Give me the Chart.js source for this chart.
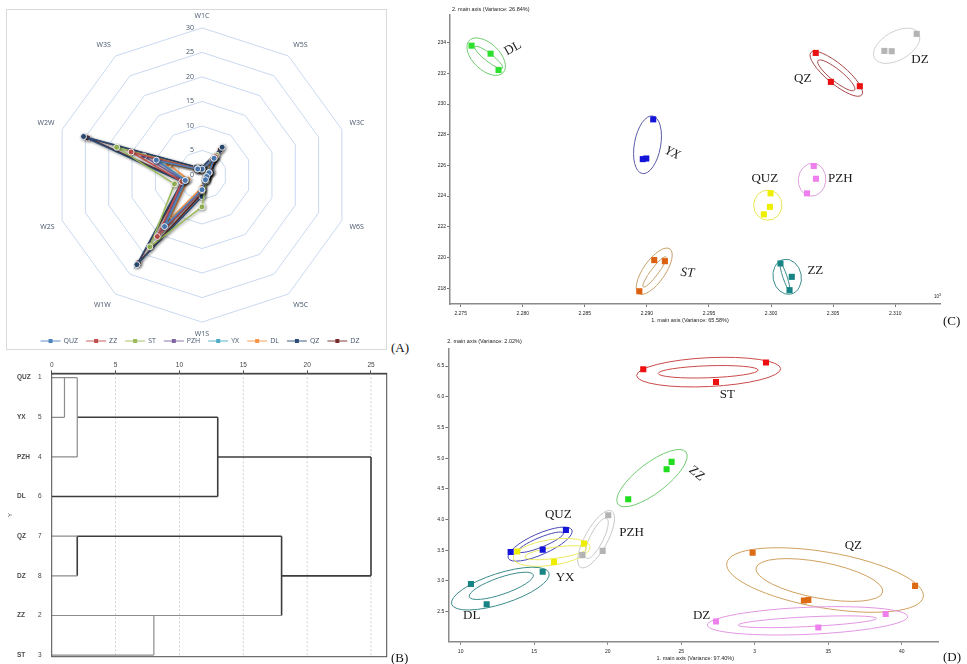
<!DOCTYPE html>
<html lang="en">
<head>
<meta charset="utf-8">
<title>Site profiles, clustering and ordination</title>
<script src="https://cdn.jsdelivr.net/npm/chart.js@4.4.1/dist/chart.umd.min.js"></script>
<style>
  html, body { margin: 0; padding: 0; background: #fff; }
  #page { position: relative; width: 967px; height: 664px; overflow: hidden; background: #fff; }
  canvas { position: absolute; display: block; }
  .frame { position: absolute; border: 1px solid #d9d9d9; box-sizing: border-box; }
  .tag { position: absolute; font-family: "Liberation Serif", "DejaVu Serif", serif; font-size: 13px; line-height: 13px; color: #111; }
</style>
</head>
<body>
<div id="page">
  <div class="frame" style="left:6px;top:9px;width:381px;height:341px"></div>
  <canvas id="radarA" width="381" height="341" style="left:6px;top:9px"></canvas>
  <canvas id="treeB" width="400" height="309" style="left:0;top:355px"></canvas>
  <canvas id="pcaC" width="547" height="330" style="left:420px;top:0"></canvas>
  <canvas id="pcaD" width="547" height="332" style="left:420px;top:332px"></canvas>
  <div class="tag" style="left:391px;top:341px">(A)</div>
  <div class="tag" style="left:391px;top:651px">(B)</div>
  <div class="tag" style="left:943px;top:314px">(C)</div>
  <div class="tag" style="left:943px;top:650px">(D)</div>
</div>
<script>
// ---------------- (A) radar profiles ----------------
const radarAxes = ['W1C', 'W5S', 'W3C', 'W6S', 'W5C', 'W1S', 'W1W', 'W2S', 'W2W', 'W3S'];
const radarTicks = [0, 5, 10, 15, 20, 25, 30];
const siteNames = ['QUZ', 'ZZ', 'ST', 'PZH', 'YX', 'DL', 'QZ', 'DZ'];
const profileQUZ = [1.2, 4.2, 1.5, 1.0, 1.2, 3.0, 13.0, 3.6, 9.8, 1.5];
const profileZZ  = [1.2, 4.6, 1.6, 1.0, 1.2, 3.2, 15.5, 4.3, 15.2, 1.6];
const profileST  = [1.0, 5.0, 1.3, 0.9, 1.5, 6.5, 18.1, 5.9, 18.3, 1.5];
const profilePZH = [1.2, 4.3, 1.5, 1.0, 1.2, 3.0, 15.1, 3.8, 12.5, 1.5];
const profileYX  = [1.2, 4.2, 1.5, 1.0, 1.2, 3.0, 13.5, 3.5, 9.8, 1.5];
const profileDL  = [1.0, 3.6, 1.3, 0.9, 1.0, 2.5, 11.4, 3.0, 7.2, 1.3];
const profileQZ  = [1.6, 7.0, 2.0, 1.2, 1.3, 4.4, 22.6, 4.3, 25.4, 2.0];
const profileDZ  = [1.5, 6.3, 1.9, 1.1, 1.3, 3.8, 22.1, 4.0, 24.5, 1.9];
const radarProfiles = [profileQUZ, profileZZ, profileST, profilePZH, profileYX, profileDL, profileQZ, profileDZ];

// ---------------- (B) hierarchical clustering ----------------
const treeLeaves = ['QUZ', 'YX', 'PZH', 'DL', 'QZ', 'DZ', 'ZZ', 'ST'];
const treeLeafIds = ['1', '5', '4', '6', '7', '8', '2', '3'];
const treeTicks = [0, 5, 10, 15, 20, 25];
// links as [distance from, leaf row from, distance to, leaf row to]
const treeStubs = [[0, 0, 2, 0], [0, 1, 1, 1], [1, 0, 1, 1], [2, 0, 2, 2], [0, 2, 2, 2],
                   [0, 4, 2, 4], [0, 5, 2, 5], [0, 6, 18, 6], [0, 7, 8, 7], [8, 6, 8, 7]];
const treeJoins = [[2, 1, 13, 1], [13, 1, 13, 3], [0, 3, 13, 3], [13, 2, 25, 2], [25, 2, 25, 5],
                   [2, 4, 18, 4], [2, 4, 2, 5], [18, 4, 18, 6], [18, 5, 25, 5]];

// ---------------- (C) ordination, axes 1 / 2 ----------------
const cXTicks = [2.275, 2.280, 2.285, 2.290, 2.295, 2.300, 2.305, 2.310];
const cYTicks = [218, 220, 222, 224, 226, 228, 230, 232, 234];
const cDL  = [[2.27588, 233.80], [2.27741, 233.28], [2.27805, 232.22]];
const cYX  = [[2.29051, 229.00], [2.28967, 226.41], [2.28995, 226.45]];
const cQZ  = [[2.30360, 233.33], [2.30482, 231.44], [2.30715, 231.16]];
const cDZ  = [[2.31173, 234.57], [2.30913, 233.46], [2.30972, 233.44]];
const cPZH = [[2.30344, 225.96], [2.30362, 225.13], [2.30290, 224.18]];
const cQUZ = [[2.29996, 224.18], [2.29991, 223.30], [2.29942, 222.81]];
const cST  = [[2.29059, 219.83], [2.29145, 219.76], [2.28939, 217.80]];
const cZZ  = [[2.30076, 219.61], [2.30167, 218.74], [2.30149, 217.87]];

// ---------------- (D) ordination, axes 1 / 2 ----------------
const dXTicks = [10, 15, 20, 25, 30, 35, 40];
const dXTickText = ['10', '15', '20', '25', '3', '35', '40'];
const dYTicks = [2.5, 3.0, 3.5, 4.0, 4.5, 5.0, 5.5, 6.0, 6.5];
const dST  = [[22.42, 6.45], [30.77, 6.56], [27.37, 6.24]];
const dZZ  = [[24.35, 4.94], [24.01, 4.82], [21.40, 4.33]];
const dPZH = [[20.04, 4.07], [19.66, 3.49], [18.27, 3.42]];
const dQUZ = [[17.16, 3.83], [15.58, 3.51], [13.40, 3.47]];
const dYX  = [[13.85, 3.48], [16.35, 3.31], [18.39, 3.61]];
const dDL  = [[10.70, 2.95], [11.77, 2.62], [15.58, 3.15]];
const dQZ  = [[29.86, 3.46], [40.91, 2.92], [33.35, 2.68], [33.65, 2.69]];
const dDZ  = [[27.37, 2.34], [34.33, 2.24], [38.91, 2.46]];

// confidence ellipses: major-axis ends (data units) and minor/major ratio
const cRings = [
  { g: 'DL',  x1: 2.27569, y1: 234.13, x2: 2.27842, y2: 232.04, r: 0.57 },
  { g: 'DL',  x1: 2.27615, y1: 233.74, x2: 2.27837, y2: 232.33, r: 0.23 },
  { g: 'YX',  x1: 2.29047, y1: 229.22, x2: 2.28963, y2: 225.47, r: 0.45 },
  { g: 'QZ',  x1: 2.30320, y1: 233.35, x2: 2.30731, y2: 230.59, r: 0.30 },
  { g: 'QZ',  x1: 2.30378, y1: 232.83, x2: 2.30673, y2: 230.91, r: 0.25 },
  { g: 'DZ',  x1: 2.31190, y1: 234.61, x2: 2.30834, y2: 232.98, r: 0.56 },
  { g: 'PZH', x1: 2.30344, y1: 226.13, x2: 2.30317, y2: 224.00, r: 0.84 },
  { g: 'QUZ', x1: 2.29974, y1: 224.39, x2: 2.29974, y2: 222.43, r: 0.94 },
  { g: 'ST',  x1: 2.28933, y1: 217.65, x2: 2.29185, y2: 220.56, r: 0.40 },
  { g: 'ST',  x1: 2.28971, y1: 218.08, x2: 2.29153, y2: 220.04, r: 0.20 },
  { g: 'ZZ',  x1: 2.30103, y1: 219.87, x2: 2.30157, y2: 217.61, r: 0.80 },
  { g: 'ZZ',  x1: 2.30076, y1: 219.61, x2: 2.30148, y2: 217.87, r: 0.15 }
];
const dRings = [
  { g: 'ST',  x1: 21.97, y1: 6.345, x2: 31.77, y2: 6.459, r: 0.20 },
  { g: 'ST',  x1: 23.44, y1: 6.380, x2: 30.24, y2: 6.435, r: 0.12 },
  { g: 'ZZ',  x1: 20.70, y1: 4.25, x2: 25.33, y2: 5.10, r: 0.35 },
  { g: 'PZH', x1: 18.16, y1: 3.22, x2: 20.27, y2: 4.14, r: 0.35 },
  { g: 'PZH', x1: 18.57, y1: 3.37, x2: 19.93, y2: 4.02, r: 0.30 },
  { g: 'QUZ', x1: 13.24, y1: 3.37, x2: 17.57, y2: 3.83, r: 0.30 },
  { g: 'QUZ', x1: 13.92, y1: 3.48, x2: 16.98, y2: 3.78, r: 0.20 },
  { g: 'YX',  x1: 13.58, y1: 3.37, x2: 18.80, y2: 3.56, r: 0.33 },
  { g: 'YX',  x1: 14.37, y1: 3.39, x2: 18.57, y2: 3.53, r: 0.18 },
  { g: 'DL',  x1: 9.39,  y1: 2.62, x2: 16.01, y2: 3.13, r: 0.30 },
  { g: 'DL',  x1: 10.59, y1: 2.74, x2: 14.94, y2: 3.10, r: 0.25 },
  { g: 'QZ',  x1: 28.10, y1: 3.29, x2: 41.47, y2: 2.74, r: 0.28 },
  { g: 'QZ',  x1: 30.09, y1: 3.21, x2: 38.71, y2: 2.82, r: 0.28 },
  { g: 'DZ',  x1: 26.78, y1: 2.28, x2: 40.41, y2: 2.42, r: 0.135 },
  { g: 'DZ',  x1: 28.88, y1: 2.28, x2: 38.30, y2: 2.39, r: 0.07 }
];

// ---------------- styling ----------------
const siteColors = ['#4f81bd', '#c0504d', '#9bbb59', '#8064a2', '#4bacc6', '#f79646', '#2c4d75', '#772c2a'];
const cDotColors  = { DL: '#2ee02e', YX: '#1414d8', QZ: '#e81010', DZ: '#b4b4b4', PZH: '#ee80ee', QUZ: '#eeee00', ST: '#dd6010', ZZ: '#168484' };
const cRingColors = { DL: '#70cc70', YX: '#5a5aa8', QZ: '#a84a4a', DZ: '#cfcfcf', PZH: '#dca0dc', QUZ: '#e6e650', ST: '#c8a06c', ZZ: '#3c8c8c' };
const dDotColors  = { ST: '#ee1010', ZZ: '#20dd20', PZH: '#b4b4b4', QUZ: '#1414d8', YX: '#eeee00', DL: '#168484', QZ: '#dd6a14', DZ: '#ee80ee' };
const dRingColors = { ST: '#cc4a4a', ZZ: '#70cc70', PZH: '#c8c8c8', QUZ: '#4a4ab8', YX: '#eaea60', DL: '#3c8c8c', QZ: '#d0a060', DZ: '#e296e2' };
// text placement for the group names (data units, rotation in degrees)
const cNamePlaces = [
  { t: 'DL', x: 2.27920, y: 233.63, rot: -30 },
  { t: 'YX', x: 2.29204, y: 226.80, rot: 25, italic: true },
  { t: 'QZ', x: 2.30255, y: 231.68 },
  { t: 'DZ', x: 2.31200, y: 232.92 },
  { t: 'PZH', x: 2.30558, y: 225.15 },
  { t: 'QUZ', x: 2.29950, y: 225.15 },
  { t: 'ST', x: 2.29327, y: 219.00, rot: 5, italic: true },
  { t: 'ZZ', x: 2.30357, y: 219.17 }
];
const dNamePlaces = [
  { t: 'ST', x: 28.14, y: 6.03 },
  { t: 'ZZ', x: 26.05, y: 4.75, rot: 40 },
  { t: 'PZH', x: 21.63, y: 3.78 },
  { t: 'QUZ', x: 16.64, y: 4.08 },
  { t: 'YX', x: 17.10, y: 3.06 },
  { t: 'DL', x: 10.75, y: 2.43 },
  { t: 'QZ', x: 36.71, y: 3.57 },
  { t: 'DZ', x: 26.39, y: 2.43 }
];

Chart.defaults.font.family = '"Liberation Sans", Arial, sans-serif';
const excelFont = '"Open Sans", "Liberation Sans", sans-serif';

// ---------- radar: tick values, soft line shadow and legend ----------
const radarDecor = {
  id: 'radarDecor',
  beforeDatasetsDraw(chart) {
    const r = chart.scales.r, ctx = chart.ctx;
    ctx.save();
    ctx.font = '7px ' + excelFont;
    ctx.fillStyle = '#44546a';
    ctx.textAlign = 'right';
    ctx.textBaseline = 'middle';
    radarTicks.forEach(v => ctx.fillText(String(v), r.xCenter - 8, r.yCenter - r.getDistanceFromCenterForValue(v)));
    ctx.restore();
    ctx.save();
    ctx.shadowColor = 'rgba(0,0,0,0.38)';
    ctx.shadowBlur = 3;
    ctx.shadowOffsetX = 1;
    ctx.shadowOffsetY = 1;
  },
  afterDatasetsDraw(chart) {
    chart.ctx.restore();
  },
  afterDraw(chart) {
    const ctx = chart.ctx;
    const items = chart.data.datasets.map(ds => ({ text: ds.label, color: ds.borderColor }));
    ctx.save();
    ctx.font = '7px ' + excelFont;
    const icon = 20, gap = 3, space = 8;
    const widths = items.map(it => icon + gap + ctx.measureText(it.text).width);
    const total = widths.reduce((a, b) => a + b, 0) + space * (items.length - 1);
    let x = chart.scales.r.xCenter - 2 - total / 2;
    const y = chart.height - 9;
    ctx.textBaseline = 'middle';
    ctx.textAlign = 'left';
    items.forEach((it, i) => {
      ctx.globalAlpha = 0.75;
      ctx.strokeStyle = it.color;
      ctx.lineWidth = 1.2;
      ctx.beginPath(); ctx.moveTo(x, y); ctx.lineTo(x + icon, y); ctx.stroke();
      ctx.globalAlpha = 1;
      ctx.fillStyle = it.color;
      ctx.fillRect(x + icon / 2 - 2, y - 2, 4, 4);
      ctx.fillStyle = '#44546a';
      ctx.fillText(it.text, x + icon + gap, y);
      x += widths[i] + space;
    });
    ctx.restore();
  }
};

new Chart(document.getElementById('radarA'), {
  type: 'radar',
  data: {
    labels: radarAxes,
    datasets: siteNames.map((name, i) => ({
      label: name,
      data: radarProfiles[i],
      borderColor: siteColors[i],
      backgroundColor: siteColors[i],
      pointBackgroundColor: siteColors[i],
      pointBorderColor: 'rgba(255,255,255,0.85)',
      pointBorderWidth: 1,
      pointRadius: 3,
      borderWidth: 1.5,
      fill: false
    }))
  },
  options: {
    responsive: false, animation: false, events: [],
    layout: { padding: { left: 11, right: 0, top: 2.5, bottom: 11.5 } },
    plugins: { legend: { display: false }, tooltip: { enabled: false } },
    scales: {
      r: {
        min: 0, max: 30,
        ticks: { stepSize: 5, display: false },
        grid: { color: '#c9d9ef', lineWidth: 1 },
        angleLines: { display: false },
        pointLabels: { font: { family: excelFont, size: 7 }, color: '#44546a', padding: 8 }
      }
    }
  },
  plugins: [radarDecor]
});

// ---------- dendrogram ----------
const treeDecor = {
  id: 'treeDecor',
  beforeDatasetsDraw(chart) {
    const { ctx, chartArea: a, scales: { x } } = chart;
    ctx.save();
    ctx.strokeStyle = '#c4c4c4';
    ctx.lineWidth = 0.8;
    ctx.setLineDash([2, 2]);
    treeTicks.forEach(v => {
      if (v === 0) return;
      const px = x.getPixelForValue(v);
      ctx.beginPath(); ctx.moveTo(px, a.top); ctx.lineTo(px, a.bottom); ctx.stroke();
    });
    ctx.restore();
  },
  afterDraw(chart) {
    const { ctx, chartArea: a, scales: { y } } = chart;
    ctx.save();
    ctx.strokeStyle = '#4a4a4a';
    ctx.lineWidth = 1;
    ctx.strokeRect(a.left, a.top, a.right - a.left, a.bottom - a.top);
    ctx.font = 'bold 6.5px "Liberation Sans", Arial, sans-serif';
    ctx.fillStyle = '#4a4a4a';
    ctx.textAlign = 'left';
    ctx.textBaseline = 'middle';
    treeLeaves.forEach((n, i) => ctx.fillText(n, 17, y.getPixelForValue(i)));
    ctx.translate(10, 160);
    ctx.rotate(-Math.PI / 2);
    ctx.textAlign = 'center';
    ctx.font = '6px "Liberation Sans", Arial, sans-serif';
    ctx.fillText('Y', 0, 0);
    ctx.restore();
  }
};

const linkSets = (links, color, width) => links.map(s => ({
  data: [{ x: s[0], y: s[1] }, { x: s[2], y: s[3] }],
  borderColor: color, borderWidth: width, showLine: true, pointRadius: 0, fill: false
}));

new Chart(document.getElementById('treeB'), {
  type: 'scatter',
  data: { datasets: [...linkSets(treeStubs, '#8c8c8c', 1.2), ...linkSets(treeJoins, '#3c3c3c', 1.6)] },
  options: {
    responsive: false, animation: false, events: [],
    layout: { padding: { left: 0, right: 13.3, top: 0, bottom: 7.3 } },
    plugins: { legend: { display: false }, tooltip: { enabled: false } },
    scales: {
      x: {
        type: 'linear', position: 'top', min: 0, max: 26.23,
        afterBuildTicks: s => { s.ticks = treeTicks.map(v => ({ value: v })); },
        afterFit: s => { s.height = 18.3; },
        grid: { drawOnChartArea: false, drawTicks: true, tickLength: 3, color: '#555' },
        border: { display: true, color: '#333', width: 1.6 },
        ticks: { font: { size: 6.5 }, color: '#444', padding: 1, autoSkip: false, maxRotation: 0 }
      },
      y: {
        type: 'linear', reverse: true, min: -0.11, max: 7.04,
        afterBuildTicks: s => { s.ticks = treeLeaves.map((_, i) => ({ value: i })); },
        afterFit: s => { s.width = 51.7; },
        grid: { display: false },
        border: { display: false },
        ticks: { callback: v => treeLeafIds[v], font: { size: 6.5 }, color: '#444', padding: 2, autoSkip: false }
      }
    }
  },
  plugins: [treeDecor]
});

// ---------- ordination plots ----------
function makeOrdinationDecor(spec) {
  return {
    id: 'ordinationDecor',
    beforeDatasetsDraw(chart) {
      const { ctx, scales: { x, y } } = chart;
      ctx.save();
      ctx.lineWidth = 1;
      spec.rings.forEach(e => {
        const p1x = x.getPixelForValue(e.x1), p1y = y.getPixelForValue(e.y1);
        const p2x = x.getPixelForValue(e.x2), p2y = y.getPixelForValue(e.y2);
        const a = Math.hypot(p2x - p1x, p2y - p1y) / 2;
        const ang = Math.atan2(p2y - p1y, p2x - p1x);
        ctx.beginPath();
        ctx.ellipse((p1x + p2x) / 2, (p1y + p2y) / 2, a, a * e.r, ang, 0, Math.PI * 2);
        ctx.strokeStyle = spec.ringColors[e.g];
        ctx.stroke();
      });
      ctx.restore();
    },
    afterDatasetsDraw(chart) {
      const { ctx, scales: { x, y } } = chart;
      ctx.save();
      ctx.fillStyle = '#1a1a1a';
      ctx.textAlign = 'center';
      ctx.textBaseline = 'middle';
      spec.names.forEach(n => {
        ctx.save();
        ctx.translate(x.getPixelForValue(n.x), y.getPixelForValue(n.y));
        ctx.rotate((n.rot || 0) * Math.PI / 180);
        ctx.font = (n.italic ? 'italic ' : '') + '13px "Liberation Serif", "DejaVu Serif", serif';
        ctx.fillText(n.t, 0, 0);
        ctx.restore();
      });
      ctx.restore();
    },
    afterDraw(chart) {
      const { ctx, chartArea: a } = chart;
      ctx.save();
      ctx.fillStyle = '#222';
      ctx.font = '5.5px "Liberation Sans", Arial, sans-serif';
      ctx.textBaseline = 'middle';
      ctx.textAlign = 'left';
      ctx.fillText(spec.yTitle, a.left + spec.yTitleDx, 9);
      ctx.textAlign = 'center';
      ctx.fillText(spec.xTitle, a.left + spec.xTitleDx, chart.height - spec.xTitleUp);
      if (spec.power) {
        ctx.textAlign = 'right';
        ctx.font = '4.5px "Liberation Sans", Arial, sans-serif';
        ctx.fillText('10', a.right - 1, a.bottom - 7);
        ctx.font = '3.5px "Liberation Sans", Arial, sans-serif';
        ctx.fillText('3', a.right + 1, a.bottom - 8.5);
      }
      ctx.restore();
    }
  };
}

function ordinationChart(id, groups, dotColors, box, xs, ys, decor) {
  return new Chart(document.getElementById(id), {
    type: 'scatter',
    data: {
      datasets: groups.map(([name, pts]) => ({
        label: name,
        data: pts.map(p => ({ x: p[0], y: p[1] })),
        pointStyle: 'rect', pointRadius: 4.3, borderWidth: 0,
        backgroundColor: dotColors[name]
      }))
    },
    options: {
      responsive: false, animation: false, events: [],
      layout: { padding: box.padding },
      plugins: { legend: { display: false }, tooltip: { enabled: false } },
      scales: {
        x: {
          type: 'linear', min: xs.min, max: xs.max,
          afterBuildTicks: s => { s.ticks = xs.ticks.map(v => ({ value: v })); },
          afterFit: s => { s.height = box.xHeight; },
          grid: { drawOnChartArea: false, tickLength: 3, color: '#777' },
          border: { color: '#8a8a8a', width: 1.5 },
          ticks: { font: { size: 5 }, color: '#222', padding: 4, autoSkip: false, maxRotation: 0, callback: xs.fmt }
        },
        y: {
          type: 'linear', min: ys.min, max: ys.max,
          afterBuildTicks: s => { s.ticks = ys.ticks.map(v => ({ value: v })); },
          afterFit: s => { s.width = box.yWidth; },
          grid: { drawOnChartArea: false, tickLength: 3, color: '#777' },
          border: { color: '#8a8a8a', width: 1.5 },
          ticks: { font: { size: 5 }, color: '#222', padding: 1, autoSkip: false, callback: ys.fmt }
        }
      }
    },
    plugins: [makeOrdinationDecor(decor)]
  });
}

ordinationChart('pcaC',
  [['DL', cDL], ['YX', cYX], ['QZ', cQZ], ['DZ', cDZ], ['PZH', cPZH], ['QUZ', cQUZ], ['ST', cST], ['ZZ', cZZ]],
  cDotColors,
  { padding: { left: 0, right: 27, top: 15, bottom: 0 }, xHeight: 26, yWidth: 30 },
  { min: 2.27414, max: 2.31361, ticks: cXTicks, fmt: v => v.toFixed(3) },
  { min: 216.97, max: 235.8, ticks: cYTicks, fmt: v => String(v) },
  { rings: cRings, ringColors: cRingColors, names: cNamePlaces,
    yTitle: '2. main axis (Variance: 26.84%)', yTitleDx: 2,
    xTitle: '1. main axis (Variance: 65.58%)', xTitleDx: 240, xTitleUp: 10, power: true });

ordinationChart('pcaD',
  [['ST', dST], ['ZZ', dZZ], ['PZH', dPZH], ['QUZ', dQUZ], ['YX', dYX], ['DL', dDL], ['QZ', dQZ], ['DZ', dDZ]],
  dDotColors,
  { padding: { left: 0, right: 29, top: 16.3, bottom: 0 }, xHeight: 22.3, yWidth: 28.3 },
  { min: 9.16, max: 42.47, ticks: dXTicks, fmt: v => dXTickText[dXTicks.indexOf(v)] },
  { min: 2.01, max: 6.79, ticks: dYTicks, fmt: v => v.toFixed(1) },
  { rings: dRings, ringColors: dRingColors, names: dNamePlaces,
    yTitle: '2. main axis (Variance: 2.02%)', yTitleDx: -1,
    xTitle: '1. main axis (Variance: 97.40%)', xTitleDx: 247, xTitleUp: 6, power: false });
</script>
</body>
</html>
